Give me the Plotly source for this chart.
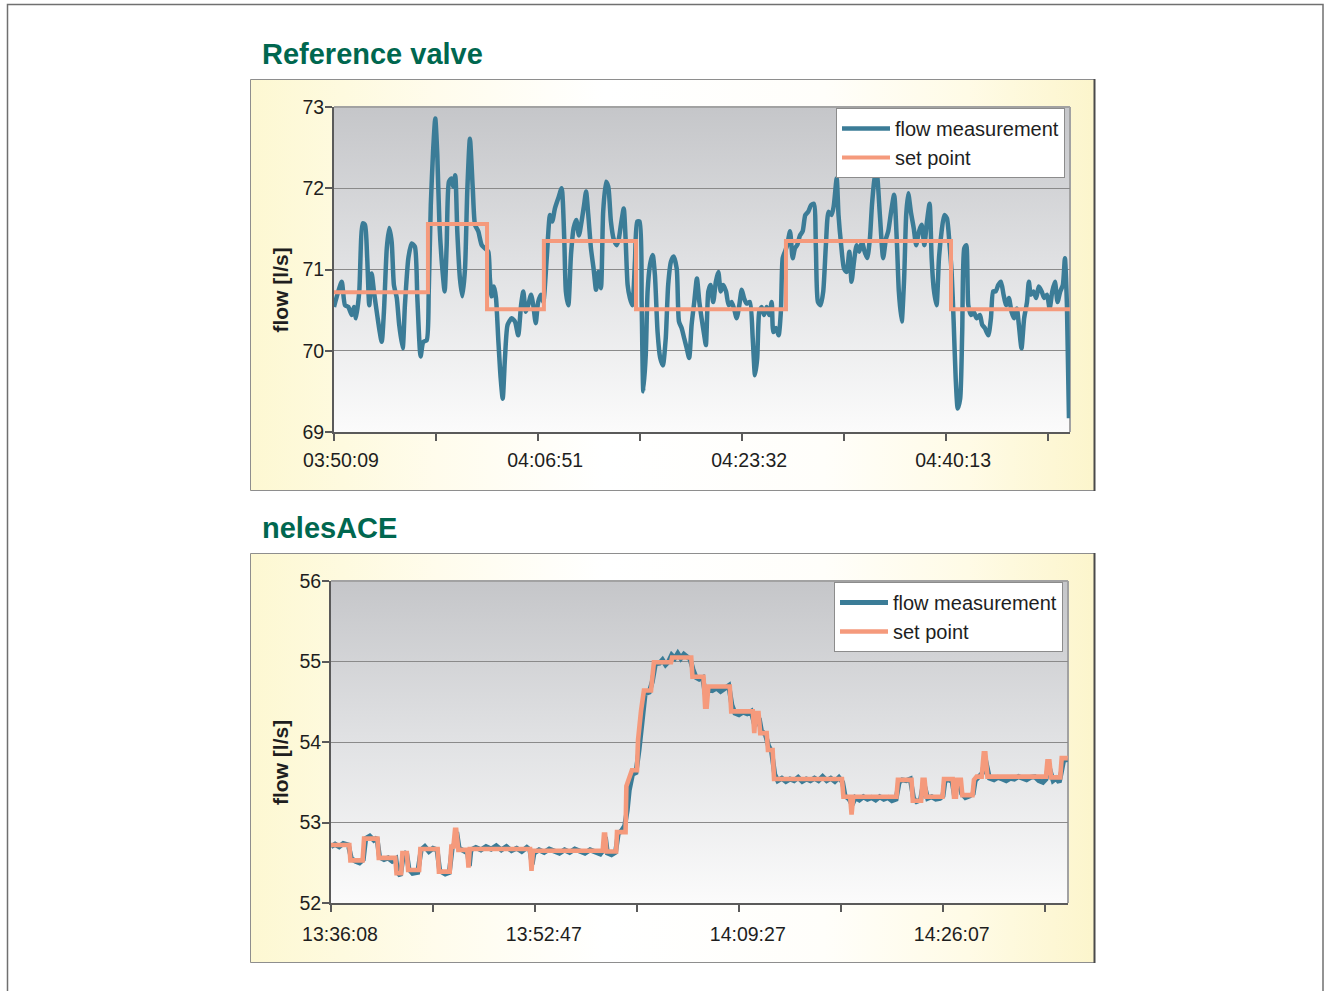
import base64
import plotly.graph_objects as go

W, H = 1327, 991
FONT = "Liberation Sans, Arial, Helvetica, sans-serif"
TITLE_GREEN = "#00674F"
FLOW_BLUE = "#3B7C97"
SET_ORANGE = "#F59A7C"
TEXT = "#1e1e1e"

# ---------------- data ----------------
panel_titles = ["Reference valve", "nelesACE"]
y_title = "flow [l/s]"
legend_names = ["flow measurement", "set point"]

p1_tick_labels = ["03:50:09", "04:06:51", "04:23:32", "04:40:13"]
p2_tick_labels = ["13:36:08", "13:52:47", "14:09:27", "14:26:07"]
p1_y_ticks = [69, 70, 71, 72, 73]
p2_y_ticks = [52, 53, 54, 55, 56]

# seconds since first tick label
p1_time_s = [
    0, 21, 38, 54, 70, 87, 98, 108, 124, 141,
    152, 163, 173, 185, 196, 212, 234, 245, 259, 271,
    283, 294, 308, 320, 337, 348, 365, 381, 397, 409,
    425, 438, 455, 465, 475, 487, 497, 507, 517, 530,
    543, 553, 564, 576, 585, 595, 605, 618, 630, 643,
    654, 667, 681, 692, 708, 725, 741, 757, 765, 774,
    785, 795, 806, 818, 828, 839, 852, 872, 888, 904,
    918, 929, 941, 953, 967, 978, 990, 1002, 1016, 1027,
    1044, 1060, 1071, 1084, 1101, 1117, 1130, 1138, 1150, 1163,
    1176, 1189, 1202, 1215, 1227, 1237, 1248, 1261, 1274, 1286,
    1297, 1310, 1321, 1335, 1346, 1359, 1372, 1387, 1398, 1408,
    1422, 1431, 1441, 1452, 1464, 1477, 1488, 1500, 1510, 1518,
    1530, 1539, 1551, 1564, 1575, 1588, 1601, 1614, 1628, 1640,
    1654, 1667, 1682, 1693, 1706, 1719, 1731, 1743, 1755, 1768,
    1781, 1793, 1804, 1817, 1825, 1837, 1848, 1861, 1874, 1886,
    1898, 1910, 1924, 1937, 1951, 1963, 1976, 1989, 2001, 2012,
    2025, 2041, 2055, 2066, 2077, 2087, 2099, 2110, 2123, 2136,
    2148, 2156, 2169, 2182, 2193, 2202, 2213, 2224, 2238, 2251,
    2262, 2273, 2287, 2300, 2313, 2327, 2341, 2355, 2365, 2375,
    2388, 2401, 2414, 2427, 2442, 2453, 2467, 2476, 2489, 2503,
    2516, 2529, 2540, 2552, 2565, 2578, 2591, 2604, 2617, 2630,
    2640, 2653, 2663, 2679, 2695, 2709, 2720, 2734, 2749, 2763,
    2772, 2786, 2798, 2808, 2818, 2831, 2845, 2857, 2871, 2884,
    2897, 2910, 2923, 2933, 2943, 2957, 2969, 2982, 2995, 3008,
    3021, 3031, 3041, 3051, 3061, 3073, 3083, 3093, 3103, 3113,
    3126, 3139, 3154, 3170, 3181, 3194, 3211, 3224, 3235, 3247,
    3260, 3273, 3286, 3299, 3312, 3325, 3338, 3351, 3361, 3374,
    3387, 3401, 3410, 3420, 3433, 3446, 3459, 3473, 3485, 3499,
    3512, 3525, 3538, 3551, 3564, 3577, 3587, 3597, 3607,
]
p1_flow = [
    70.54, 70.73, 70.85, 70.56, 70.54, 70.44, 70.54, 70.40, 70.73, 71.57,
    71.55, 71.14, 70.56, 70.95, 70.73, 70.44, 70.11, 70.48, 71.26, 71.51,
    71.34, 70.81, 70.65, 70.32, 70.03, 70.56, 71.14, 71.32, 71.28, 70.65,
    69.93, 70.11, 70.13, 70.73, 71.79, 72.49, 72.86, 72.41, 71.59, 71.06,
    70.73, 71.30, 72.08, 72.12, 72.02, 72.16, 71.47, 70.89, 70.67, 71.01,
    71.96, 72.61, 72.00, 71.55, 71.47, 71.30, 71.26, 71.22, 70.89, 70.67,
    70.79, 70.65, 70.15, 69.66, 69.41, 69.91, 70.32, 70.40, 70.36, 70.19,
    70.56, 70.73, 70.48, 70.56, 70.69, 70.56, 70.34, 70.60, 70.69, 70.60,
    71.14, 71.67, 71.59, 71.75, 71.88, 72.00, 71.38, 70.73, 70.56, 71.18,
    71.51, 71.61, 71.42, 71.59, 71.79, 71.96, 71.67, 71.26, 71.01, 70.75,
    70.97, 70.77, 71.71, 72.08, 72.02, 71.59, 71.38, 71.30, 71.38, 71.55,
    71.75, 71.38, 70.81, 70.65, 70.56, 71.10, 71.59, 71.59, 70.56, 69.50,
    69.95, 70.73, 71.06, 71.18, 70.93, 70.23, 69.91, 69.82, 70.15, 70.81,
    71.10, 71.16, 71.01, 70.36, 70.28, 70.15, 70.03, 69.91, 70.32, 70.60,
    70.89, 70.60, 70.40, 70.19, 70.07, 70.73, 70.81, 70.60, 70.85, 70.97,
    70.73, 70.81, 70.73, 70.56, 70.60, 70.52, 70.40, 70.56, 70.75, 70.65,
    70.58, 70.60, 70.15, 69.70, 69.91, 70.48, 70.54, 70.44, 70.54, 70.44,
    70.60, 70.23, 70.28, 70.19, 70.48, 71.14, 71.22, 71.30, 71.47, 71.14,
    71.26, 71.30, 71.42, 71.47, 71.67, 71.71, 71.79, 71.81, 71.26, 70.60,
    70.56, 70.73, 71.30, 71.71, 71.67, 71.79, 72.12, 71.67, 71.30, 71.01,
    70.97, 71.22, 70.85, 71.10, 71.30, 71.22, 71.34, 71.22, 71.14, 71.38,
    71.79, 72.12, 72.20, 71.67, 71.14, 71.38, 71.47, 71.71, 71.92, 71.30,
    70.73, 70.36, 70.89, 71.67, 71.94, 71.71, 71.51, 71.30, 71.47, 71.55,
    71.30, 71.59, 71.81, 71.14, 70.77, 70.56, 71.14, 71.47, 71.67, 71.63,
    71.30, 70.97, 70.36, 69.66, 69.29, 69.41, 70.23, 71.26, 71.30, 70.56,
    70.44, 70.48, 70.40, 70.44, 70.32, 70.28, 70.19, 70.40, 70.73, 70.73,
    70.81, 70.85, 70.69, 70.56, 70.65, 70.48, 70.40, 70.52, 70.32, 70.03,
    70.40, 70.60, 70.85, 70.69, 70.73, 70.65, 70.79, 70.73, 70.65, 70.69,
    70.52, 70.73, 70.85, 70.60, 70.73, 70.81, 71.14, 70.56, 69.17,
]
p1_sp_time_s = [0, 461, 751, 1030, 1482, 2218, 3028, 3612]
p1_setpoint = [70.72, 71.56, 70.51, 71.35, 70.51, 71.35, 70.51, 70.51]

p2_time_s = [
    0, 20, 40, 60, 85, 100, 120, 140, 158, 170,
    190, 210, 225, 238, 260, 280, 300, 318, 326, 340,
    355, 370, 382, 400, 425, 442, 460, 480, 500, 520,
    533, 560, 580, 594, 606, 616, 628, 650, 670, 678,
    686, 710, 735, 760, 785, 810, 835, 860, 885, 910,
    935, 960, 975, 986, 995, 1020, 1045, 1070, 1095, 1120,
    1145, 1170, 1195, 1220, 1245, 1270, 1295, 1320, 1335, 1345,
    1355, 1375, 1395, 1408, 1425, 1440, 1452, 1462, 1478, 1495,
    1510, 1525, 1540, 1560, 1575, 1590, 1610, 1625, 1640, 1655,
    1670, 1685, 1700, 1715, 1730, 1745, 1760, 1775, 1790, 1805,
    1822, 1838, 1852, 1870, 1890, 1910, 1930, 1950, 1965, 1980,
    2000, 2020, 2040, 2060, 2078, 2090, 2100, 2110, 2130, 2145,
    2160, 2175, 2190, 2210, 2230, 2250, 2270, 2290, 2310, 2330,
    2350, 2370, 2390, 2410, 2430, 2450, 2470, 2490, 2508, 2520,
    2540, 2555, 2570, 2590, 2610, 2630, 2650, 2670, 2690, 2710,
    2730, 2750, 2770, 2785, 2800, 2820, 2840, 2856, 2870, 2890,
    2905, 2915, 2925, 2945, 2965, 2985, 3000, 3010, 3030, 3045,
    3058, 3068, 3080, 3092, 3110, 3130, 3148, 3158, 3175, 3195,
    3205, 3215, 3228, 3250, 3270, 3290, 3310, 3330, 3350, 3370,
    3390, 3410, 3430, 3450, 3470, 3490, 3505, 3518, 3528, 3540,
    3555, 3570, 3580, 3592, 3605, 3612,
]
p2_flow = [
    52.70, 52.73, 52.70, 52.74, 52.72, 52.55, 52.52, 52.50, 52.54, 52.80,
    52.83, 52.78, 52.81, 52.57, 52.54, 52.56, 52.52, 52.55, 52.38, 52.34,
    52.60, 52.63, 52.42, 52.37, 52.38, 52.66, 52.70, 52.64, 52.68, 52.66,
    52.40, 52.36, 52.38, 52.68, 52.74, 52.88, 52.68, 52.64, 52.62, 52.46,
    52.66, 52.69, 52.66, 52.70, 52.67, 52.71, 52.66, 52.70, 52.65, 52.68,
    52.64, 52.69, 52.66, 52.48, 52.62, 52.66, 52.63, 52.67, 52.64, 52.62,
    52.66, 52.63, 52.67, 52.64, 52.62, 52.66, 52.63, 52.61, 52.66, 52.82,
    52.62, 52.60, 52.63, 52.86, 52.90, 52.96, 53.15, 53.40, 53.60, 53.62,
    53.90, 54.32, 54.60, 54.62, 54.75, 54.97, 54.98, 55.02, 54.96, 55.00,
    55.08, 55.04, 55.10, 55.04, 55.09, 55.06, 55.03, 54.90, 54.80, 54.78,
    54.80, 54.55, 54.66, 54.64, 54.67, 54.63, 54.66, 54.70, 54.46, 54.36,
    54.34, 54.37, 54.35, 54.38, 54.20, 54.30, 54.28, 54.14, 54.09, 53.95,
    53.88, 53.60, 53.52, 53.55, 53.51, 53.54, 53.52, 53.56, 53.51, 53.54,
    53.52, 53.55, 53.52, 53.57, 53.52, 53.55, 53.51, 53.56, 53.50, 53.33,
    53.29, 53.22, 53.31, 53.28, 53.32, 53.29, 53.31, 53.28, 53.32, 53.29,
    53.31, 53.27, 53.29, 53.50, 53.53, 53.52, 53.54, 53.30, 53.26, 53.28,
    53.50, 53.40, 53.30, 53.32, 53.29, 53.30, 53.33, 53.52, 53.53, 53.51,
    53.31, 53.50, 53.51, 53.36, 53.31, 53.33, 53.36, 53.52, 53.56, 53.62,
    53.82, 53.66, 53.55, 53.53, 53.56, 53.54, 53.52, 53.55, 53.54, 53.57,
    53.55, 53.53, 53.56, 53.57, 53.52, 53.50, 53.54, 53.72, 53.62, 53.52,
    53.55, 53.50, 53.62, 53.78, 53.78, 53.79,
]
p2_sp_time_s = [
    0, 90, 95, 155, 162, 228, 234, 315, 321, 344,
    350, 372, 378, 432, 438, 523, 529, 582, 590, 600,
    608, 614, 624, 668, 674, 680, 976, 983, 990, 1332,
    1338, 1344, 1350, 1398, 1402, 1444, 1448, 1475, 1500, 1505,
    1520, 1534, 1569, 1583, 1667, 1672, 1766, 1772, 1826, 1834,
    1842, 1850, 1955, 1962, 2068, 2075, 2081, 2096, 2104, 2136,
    2142, 2165, 2172, 2505, 2512, 2545, 2552, 2560, 2772, 2779,
    2846, 2852, 2893, 2900, 2910, 2918, 2998, 3005, 3048, 3054,
    3064, 3070, 3088, 3095, 3145, 3152, 3165, 3190, 3200, 3208,
    3218, 3505, 3512, 3522, 3530, 3575, 3582, 3612,
]
p2_setpoint = [
    52.72, 52.72, 52.53, 52.53, 52.80, 52.80, 52.56, 52.56, 52.37, 52.37,
    52.62, 52.62, 52.41, 52.41, 52.67, 52.67, 52.39, 52.39, 52.70, 52.70,
    52.91, 52.91, 52.66, 52.66, 52.44, 52.67, 52.67, 52.40, 52.65, 52.65,
    52.85, 52.85, 52.64, 52.64, 52.88, 52.88, 53.45, 53.65, 53.65, 54.02,
    54.39, 54.64, 54.64, 54.99, 54.99, 55.05, 55.05, 54.81, 54.81, 54.44,
    54.44, 54.69, 54.69, 54.38, 54.38, 54.11, 54.36, 54.36, 54.11, 54.11,
    53.90, 53.90, 53.54, 53.54, 53.32, 53.32, 53.10, 53.32, 53.32, 53.53,
    53.53, 53.27, 53.27, 53.53, 53.53, 53.32, 53.32, 53.54, 53.54, 53.32,
    53.32, 53.53, 53.53, 53.34, 53.34, 53.53, 53.57, 53.57, 53.86, 53.86,
    53.57, 53.57, 53.76, 53.76, 53.56, 53.56, 53.80, 53.80,
]


# ---------------- helpers ----------------
def secs(label, ref):
    h, m, s = map(int, label.split(":"))
    h0, m0, s0 = map(int, ref.split(":"))
    return (h * 3600 + m * 60 + s) - (h0 * 3600 + m0 * 60 + s0)


def tick_setup(labels):
    major = [secs(l, labels[0]) for l in labels]
    vals, text = [], []
    for i, v in enumerate(major):
        vals.append(v)
        text.append(labels[i])
        step = (major[i + 1] - v) if i + 1 < len(major) else (v - major[i - 1])
        vals.append(v + step / 2)
        text.append("")
    return vals, text


def px(x):
    return x / W


def py(y):
    return 1 - y / H


def grad_uri(stops, vertical):
    x2, y2 = ("0", "1") if vertical else ("1", "0")
    st = "".join(f'<stop offset="{o}" stop-color="{c}"/>' for o, c in stops)
    svg = ('<svg xmlns="http://www.w3.org/2000/svg" width="200" height="200" '
           'viewBox="0 0 200 200" preserveAspectRatio="none">'
           f'<defs><linearGradient id="g" x1="0" y1="0" x2="{x2}" y2="{y2}">{st}</linearGradient></defs>'
           '<rect x="0" y="0" width="200" height="200" fill="url(#g)"/></svg>')
    return "data:image/svg+xml;base64," + base64.b64encode(svg.encode()).decode()


frame_uri = grad_uri([(0, "#fdf8d2"), (0.22, "#fffcec"), (0.42, "#ffffff"),
                      (0.68, "#fffefa"), (0.85, "#fffbe6"), (1, "#fcf5cc")], False)
plot_uri = grad_uri([(0, "#c5c6c9"), (0.5, "#e1e2e4"), (1, "#fbfbfb")], True)

panels = [
    dict(frame=(250, 79, 1095, 491), plot=(334, 107, 1070, 432), title_y=54,
         t=p1_time_s, flow=p1_flow, spt=p1_sp_time_s, sp=p1_setpoint, sp_shape="hv",
         flow_shape="spline", ticks=p1_tick_labels, yticks=p1_y_ticks, xmax=3612,
         legend=(1065, 108), flow_w=4.5, sp_w=4.0, xstand=3, xshift=7),
    dict(frame=(250, 553, 1095, 963), plot=(331, 581, 1068, 903), title_y=528,
         t=p2_time_s, flow=p2_flow, spt=p2_sp_time_s, sp=p2_setpoint, sp_shape="linear",
         flow_shape="linear", ticks=p2_tick_labels, yticks=p2_y_ticks, xmax=3613,
         legend=(1063, 582), flow_w=5.0, sp_w=4.6, xstand=6, xshift=9),
]

fig = go.Figure()
images, shapes, annotations = [], [], []
layout_axes = {}

# outer border
shapes.append(dict(type="rect", xref="paper", yref="paper", x0=px(7.5), x1=px(1323),
                   y0=-0.02, y1=py(4.5), line=dict(color="#707070", width=1.5), layer="below"))

for i, p in enumerate(panels):
    n = "" if i == 0 else str(i + 1)
    fx0, fy0, fx1, fy1 = p["frame"]
    x0, y0, x1, y1 = p["plot"]
    images.append(dict(source=frame_uri, xref="paper", yref="paper", x=px(fx0), y=py(fy0),
                       sizex=(fx1 - fx0) / W, sizey=(fy1 - fy0) / H, xanchor="left",
                       yanchor="top", sizing="stretch", layer="below"))
    images.append(dict(source=plot_uri, xref="paper", yref="paper", x=px(x0), y=py(y0),
                       sizex=(x1 - x0) / W, sizey=(y1 - y0) / H, xanchor="left",
                       yanchor="top", sizing="stretch", layer="below"))
    # frame border
    shapes.append(dict(type="rect", xref="paper", yref="paper", x0=px(fx0 + 0.5), x1=px(fx1 - 0.5),
                       y0=py(fy1 - 0.5), y1=py(fy0 + 0.5), line=dict(color="#8e8e8e", width=1),
                       layer="below"))
    shapes.append(dict(type="line", xref="paper", yref="paper", x0=px(fx1 - 0.5), x1=px(fx1 - 0.5),
                       y0=py(fy1), y1=py(fy0), line=dict(color="#4a4a4a", width=2), layer="below"))
    # plot area top / right border
    shapes.append(dict(type="line", xref="paper", yref="paper", x0=px(x0), x1=px(x1),
                       y0=py(y0), y1=py(y0), line=dict(color="#a2a2a2", width=2), layer="below"))
    shapes.append(dict(type="line", xref="paper", yref="paper", x0=px(x1), x1=px(x1),
                       y0=py(y1), y1=py(y0), line=dict(color="#a2a2a2", width=2), layer="below"))

    tv, tt = tick_setup(p["ticks"])
    layout_axes["xaxis" + n] = dict(
        domain=[px(x0), px(x1)], range=[0, p["xmax"]], anchor="y" + n, automargin=False,
        tickvals=tv, ticktext=tt, ticks="outside", ticklen=7, tickwidth=1.5,
        tickcolor="#5a5a5a", showline=True, linecolor="#5a5a5a", linewidth=2,
        showgrid=False, zeroline=False, ticklabelshift=p["xshift"],
        ticklabelstandoff=p["xstand"],
        tickfont=dict(family=FONT, size=19.5, color=TEXT))
    layout_axes["yaxis" + n] = dict(
        domain=[py(y1), py(y0)], range=[p["yticks"][0], p["yticks"][-1]], anchor="x" + n,
        automargin=False, tickvals=p["yticks"], ticks="outside", ticklen=7, tickwidth=1.5,
        tickcolor="#5a5a5a", showline=True, linecolor="#5a5a5a", linewidth=2,
        showgrid=True, gridcolor="#8a8a8a", gridwidth=1, zeroline=False,
        ticklabelstandoff=-3,
        tickfont=dict(family=FONT, size=19.5, color=TEXT))

    lg = "legend" + n
    fig.add_trace(go.Scatter(x=p["t"], y=p["flow"], mode="lines", name=legend_names[0],
                             line=dict(color=FLOW_BLUE, width=p["flow_w"], shape=p["flow_shape"],
                                       smoothing=0.6),
                             xaxis="x" + n, yaxis="y" + n, legend=lg, showlegend=True))
    fig.add_trace(go.Scatter(x=p["spt"], y=p["sp"], mode="lines", name=legend_names[1],
                             line=dict(color=SET_ORANGE, width=p["sp_w"], shape=p["sp_shape"]),
                             xaxis="x" + n, yaxis="y" + n, legend=lg, showlegend=True))

    lx, ly = p["legend"]
    layout_axes[lg] = dict(x=px(lx), y=py(ly), xanchor="right", yanchor="top",
                           bgcolor="white", bordercolor="#8c8c8c", borderwidth=1,
                           font=dict(family=FONT, size=20, color=TEXT),
                           itemwidth=48, tracegroupgap=0)

    annotations.append(dict(text=f"<b>{panel_titles[i]}</b>", xref="paper", yref="paper",
                            x=px(260), y=py(p["title_y"]), xanchor="left", yanchor="middle",
                            showarrow=False, font=dict(family=FONT, size=29, color=TITLE_GREEN)))
    annotations.append(dict(text=f"<b>{y_title}</b>", xref="paper", yref="paper",
                            x=px(280), y=py((y0 + y1) / 2 + 21), xanchor="center",
                            yanchor="middle", textangle=-90, showarrow=False,
                            font=dict(family=FONT, size=21, color=TEXT)))

fig.update_layout(
    width=W, height=H, autosize=False,
    margin=dict(l=0, r=0, t=0, b=0, pad=0, autoexpand=False),
    paper_bgcolor="white", plot_bgcolor="rgba(0,0,0,0)",
    images=images, shapes=shapes, annotations=annotations,
    font=dict(family=FONT, color=TEXT),
    **layout_axes,
)

fig.write_html("out.html", config={"displayModeBar": False},
               post_script="document.body.style.margin='0';document.body.style.padding='0';")
